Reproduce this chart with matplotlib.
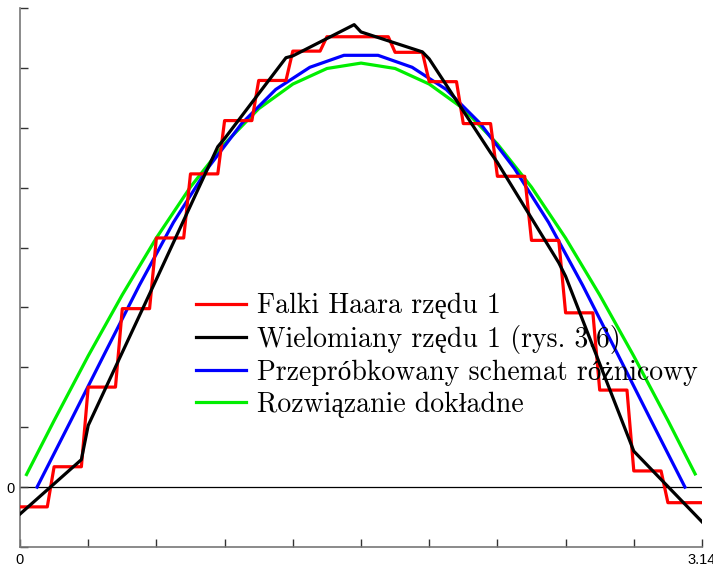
import numpy as np
import matplotlib
matplotlib.use("Agg")
import matplotlib.pyplot as plt
from matplotlib.lines import Line2D

# Falki Haara rzędu 1: values on 20 equal cells of [0, pi]
haar_levels = [-0.33, 0.34, 1.67, 2.98, 4.16, 5.23, 6.12, 6.79, 7.28, 7.52,
               7.52, 7.26, 6.77, 6.07, 5.19, 4.12, 2.91, 1.62, 0.27, -0.26]

# Wielomiany rzędu 1: left/right end values on 10 equal cells of [0, pi]
poly_left = [-0.45, 1.03, 3.47, 5.82, 7.20, 7.60, 7.15, 5.42, 3.52, 0.60]
poly_right = [0.56, 3.47, 5.93, 7.32, 7.78, 7.23, 5.41, 3.56, 0.60, -0.58]

# Przepróbkowany schemat różnicowy: node values at the centres of the 20 cells
resampled = [0.0, 1.12, 2.25, 3.37, 4.42, 5.32, 6.07, 6.64, 7.01, 7.21,
             7.21, 7.01, 6.64, 6.07, 5.32, 4.42, 3.37, 2.25, 1.12, 0.0]

# Rozwiązanie dokładne
exact_t = [0.03, 0.157, 0.314, 0.471, 0.628, 0.785, 0.942, 1.100, 1.257, 1.414,
           1.571, 1.728, 1.885, 2.042, 2.199, 2.356, 2.513, 2.670, 2.827, 2.985, 3.11]
exact_v = [0.21, 1.11, 2.19, 3.21, 4.16, 5.01, 5.73, 6.32, 6.73, 6.99,
           7.08, 6.99, 6.73, 6.32, 5.73, 5.01, 4.16, 3.21, 2.19, 1.11, 0.22]

labels = ['Falki Haara rzędu 1',
          'Wielomiany rzędu 1 (rys. 3.6)',
          'Przepróbkowany schemat różnicowy',
          'Rozwiązanie dokładne']
colors = ['#ff0000', '#000000', '#0000ff', '#00ee00']

L = np.pi
t = np.linspace(0, L, 101)

# step function sampled on the plotting grid
h = L / len(haar_levels)
idx = np.minimum((t / h + 1e-9).astype(int), len(haar_levels) - 1)
haar = np.array(haar_levels)[idx]

# discontinuous piecewise linear function sampled on the same grid
H = L / len(poly_left)
cell = np.minimum((t / H + 1e-9).astype(int), len(poly_left) - 1)
frac = t / H - cell
poly = np.array(poly_left)[cell] + (np.array(poly_right)[cell] - np.array(poly_left)[cell]) * frac

nodes = (np.arange(len(resampled)) + 0.5) * h

fig = plt.figure(figsize=(7.13, 5.67), dpi=100)
ax = fig.add_axes([20 / 713, 1 - 547 / 567, 682 / 713, 539 / 567])

lw = 2.3
ax.axhline(0, color='black', lw=0.9, zorder=1)
ax.plot(exact_t, exact_v, color=colors[3], lw=lw, zorder=2)
ax.plot(nodes, resampled, color=colors[2], lw=lw, zorder=3)
ax.plot(t, haar, color=colors[0], lw=lw, zorder=4)
ax.plot(t, poly, color=colors[1], lw=lw, zorder=5)

ax.set_xlim(0, L)
ax.set_ylim(-1, 8)

ax.set_xticks(np.linspace(0, L, 11))
ax.set_xticklabels(['0'] + [''] * 9 + ['3.14'])
ax.set_yticks(np.arange(-1, 9))
ax.set_yticklabels(['' if v != 0 else '0' for v in range(-1, 9)])
ax.tick_params(direction='in', length=6, width=1, color='#333333',
               labelsize=10.5, pad=4)
for lab in ax.get_xticklabels() + ax.get_yticklabels():
    lab.set_family('Liberation Sans')

for side in ['top', 'right']:
    ax.spines[side].set_visible(False)
for side in ['left', 'bottom']:
    ax.spines[side].set_color('#777777')
    ax.spines[side].set_linewidth(1.2)

handles = [Line2D([], [], color=c, lw=lw) for c in colors]
leg = ax.legend(handles, labels, loc='upper left', bbox_to_anchor=(0.258, 0.471),
                frameon=False, handlelength=1.8, handletextpad=0.38,
                labelspacing=0.2, borderpad=0, borderaxespad=0,
                prop={'family': ['cmr10', 'Liberation Serif'], 'size': 20})

fig.savefig('out.png', dpi=100)
